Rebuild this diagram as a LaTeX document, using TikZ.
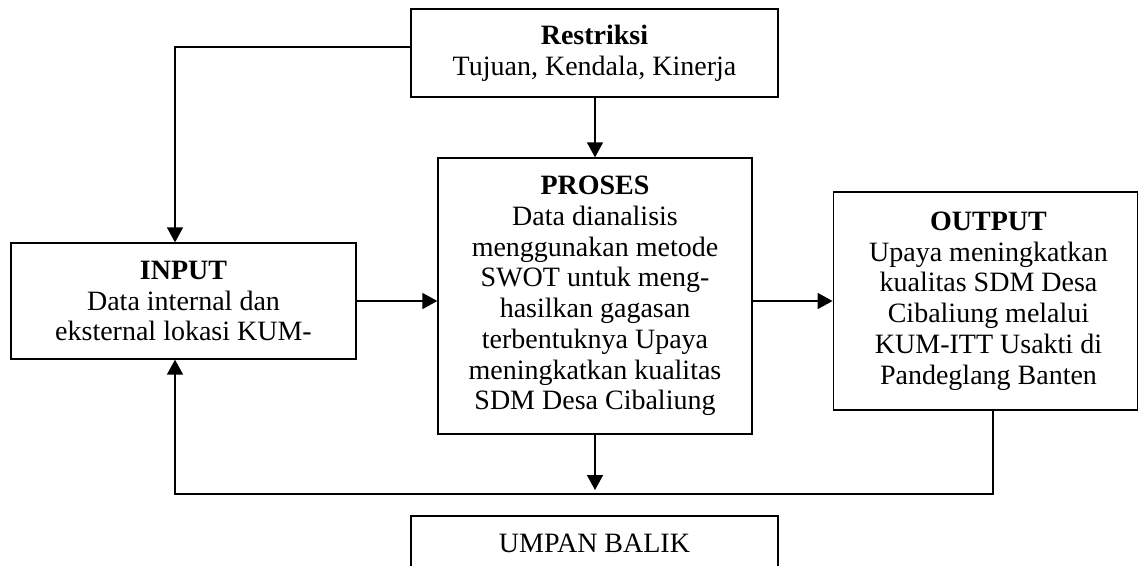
\documentclass[tikz,border=0pt]{standalone}
\usepackage{fontspec}
\setmainfont{Liberation Serif}
\usetikzlibrary{arrows.meta}
\tikzset{
  box/.style={draw, line width=1.3pt, align=center, inner sep=0pt,
    font=\fontsize{28}{30.7}\selectfont},
  arr/.style={line width=1.5pt, -{Triangle[length=15pt,width=16pt]}},
  ln/.style={line width=1.5pt}
}
\begin{document}
\begin{tikzpicture}[x=1pt,y=-1pt]
\useasboundingbox (0,0) rectangle (1139,565);
\node[box, minimum width=367pt, minimum height=88pt] (R) at (594.5,53)
  {\textbf{Restriksi}\\Tujuan, Kendala, Kinerja};
\node[box, minimum width=314pt, minimum height=276pt] (P) at (595,296)
  {\textbf{PROSES}\\Data dianalisis\\menggunakan metode\\SWOT untuk meng-\\hasilkan gagasan\\terbentuknya Upaya\\meningkatkan kualitas\\SDM Desa Cibaliung};
\node[box, minimum width=345pt, minimum height=116pt] (I) at (183.5,301)
  {\textbf{INPUT}\\Data internal dan\\eksternal lokasi KUM-};
\node[box, minimum width=304.5pt, minimum height=218pt] (O) at (985.5,301)
  {\hspace*{6pt}\textbf{OUTPUT}\\\hspace*{6pt}Upaya meningkatkan\\\hspace*{6pt}kualitas SDM Desa\\\hspace*{6pt}Cibaliung melalui\\\hspace*{6pt}KUM-ITT Usakti di\\\hspace*{6pt}Pandeglang Banten};
\node[box, minimum width=367pt, minimum height=55pt] (U) at (594.5,543.5)
  {UMPAN BALIK};
\coordinate (c1) at (175,47);
\coordinate (fbR) at (993,494);
\coordinate (fbL) at (175,494);
\coordinate (fbM) at (595,490);
\draw[arr] (R.west |- c1) -- (c1) -- (c1 |- I.north);
\draw[arr] (R.south -| P.north) -- (P.north);
\draw[arr] (I.east) -- (I.east -| P.west);
\draw[arr] (O.west -| P.east) -- (O.west);
\draw[arr] (P.south) -- (fbM);
\draw[arr] (fbR |- O.south) -- (fbR) -- (fbL) -- (fbL |- I.south);
\end{tikzpicture}
\end{document}
